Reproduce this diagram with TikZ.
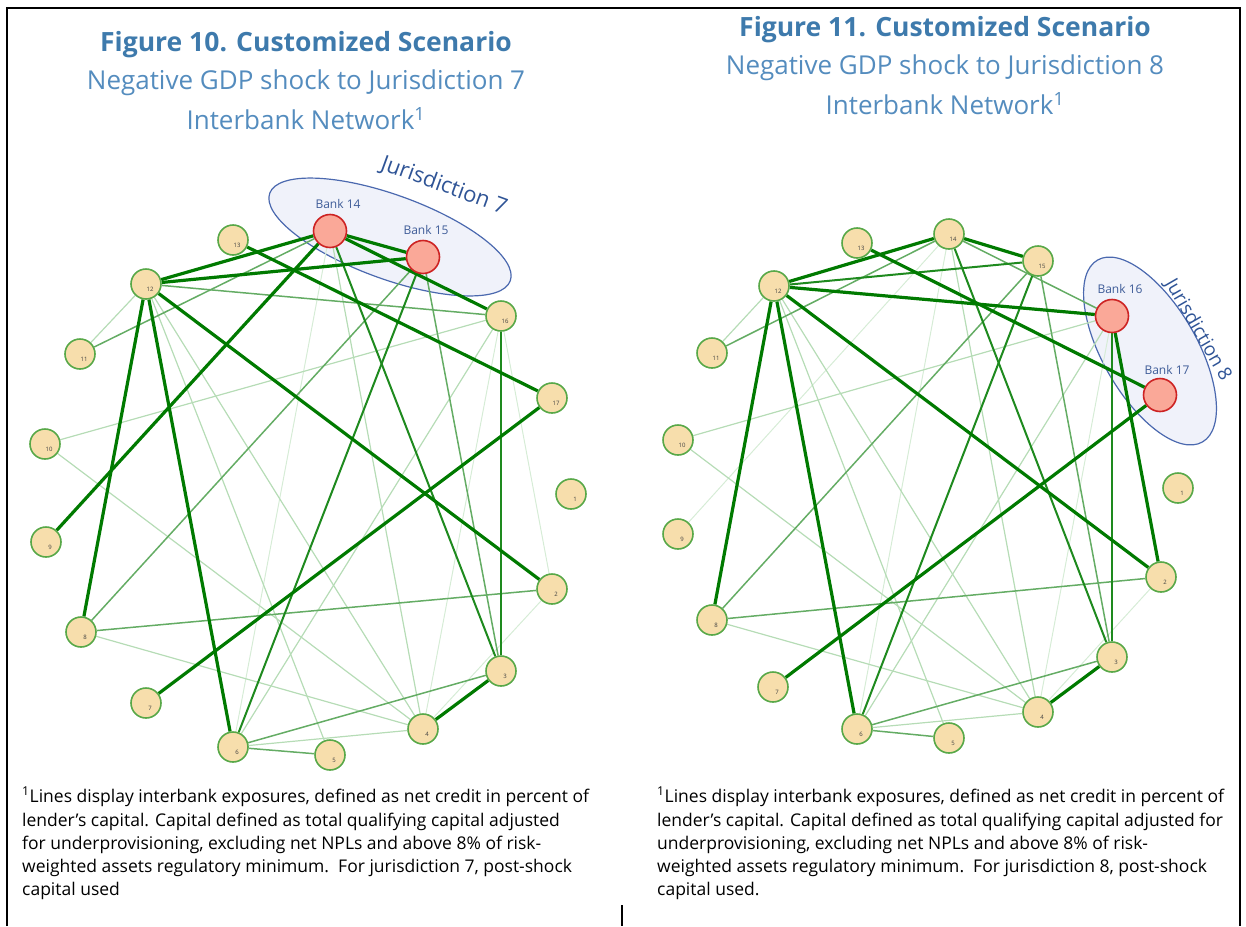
\documentclass[tikz,border=0pt]{standalone}
\usepackage{fontspec}
\setmainfont{Open Sans}
\usetikzlibrary{shapes.geometric,backgrounds}
\definecolor{titleblue}{RGB}{62,122,172}
\definecolor{subblue}{RGB}{84,140,190}
\definecolor{jurblue}{RGB}{47,84,150}
\definecolor{bankblue}{RGB}{62,92,152}
\definecolor{ellfill}{RGB}{240,242,250}
\definecolor{elledge}{RGB}{75,105,175}
\definecolor{nodefill}{RGB}{247,222,172}
\definecolor{nodeedge}{RGB}{88,168,72}
\definecolor{redfill}{RGB}{250,168,152}
\definecolor{rededge}{RGB}{205,35,35}
\definecolor{gthick}{RGB}{0,122,0}
\definecolor{gmed}{RGB}{30,138,30}
\definecolor{gml}{RGB}{100,172,100}
\definecolor{gl}{RGB}{182,220,182}
\definecolor{gvl}{RGB}{214,236,214}
\tikzset{
  bank/.style={circle, fill=nodefill, draw=nodeedge, line width=1.6pt, minimum size=30pt, inner sep=0pt},
  rbank/.style={circle, fill=redfill, draw=rededge, line width=1.6pt, minimum size=33pt, inner sep=0pt},
  num/.style={font=\fontsize{6}{6}\selectfont, text=black!75, xshift=4pt, yshift=-5pt, inner sep=0pt},
  ethick/.style={draw=gthick, line width=3.2pt},
  emed/.style={draw=gmed, line width=2pt},
  eml/.style={draw=gml, line width=1.5pt},
  el/.style={draw=gl, line width=1.2pt},
  evl/.style={draw=gvl, line width=1pt},
  jell/.style={ellipse, fill=ellfill, draw=elledge, line width=1.2pt, inner sep=0pt},
  jur/.style={text=jurblue, font=\fontsize{22}{22}\selectfont, inner sep=0pt},
  blbl/.style={text=bankblue, font=\fontsize{12}{12}\selectfont, inner sep=0pt},
  ttl/.style={text=titleblue, font=\bfseries\fontsize{26.5}{26.5}\selectfont, inner sep=0pt},
  sub/.style={text=subblue, font=\fontsize{26}{26}\selectfont, inner sep=0pt},
  foot/.style={text=black, font=\fontsize{17.5}{20}\selectfont, inner sep=0pt, anchor=base west},
  frame/.style={draw=black, line width=2pt}
}
\newcommand\bk[4]{\node[bank, label={[num]center:#4}] (#1) at (#2,#3) {};}
\begin{document}
\begin{tikzpicture}[x=1pt,y=-1pt]
\useasboundingbox (0,0) rectangle (1246,926);
\draw[frame] (7,926) -- (7,8) -- (1240,8) -- (1240,926);
\draw[frame] (622,905) -- (622,926);

% titles
\node[ttl] (t10) at (306,45) {Figure 10. Customized Scenario};
\node[sub] (s10) at (306,83) {Negative GDP shock to Jurisdiction 7};
\node[sub] (i10) at (306,119) {Interbank Network\textsuperscript{1}};
\node[ttl] (t11) at (945,30) {Figure 11. Customized Scenario};
\node[sub] (s11) at (945,68) {Negative GDP shock to Jurisdiction 8};
\node[sub] (i11) at (945,104) {Interbank Network\textsuperscript{1}};

% ---------- left network nodes ----------
\bk{L13}{233}{240}{13}
\node[rbank] (L14) at (330,231) {};
\node[rbank] (L15) at (423,257) {};
\bk{L12}{146}{284}{12}
\bk{L16}{501}{316}{16}
\bk{L11}{80}{354}{11}
\bk{L17}{552}{398}{17}
\bk{L10}{45}{444}{10}
\bk{L1}{571}{494}{1}
\bk{L9}{46}{542}{9}
\bk{L2}{552}{589}{2}
\bk{L8}{81}{632}{8}
\bk{L3}{501}{671}{3}
\bk{L7}{146}{703}{7}
\bk{L4}{423}{729}{4}
\bk{L6}{233}{747}{6}
\bk{L5}{330}{755}{5}
\node[blbl] (bl14) at (338,204) {Bank 14};
\node[blbl] (bl15) at (426,230) {Bank 15};
\node[jur, rotate=-20] (J7) at (444,186) {Jurisdiction 7};

% ---------- right network nodes ----------
\bk{R13}{857}{243}{13}
\bk{R14}{949}{234}{14}
\bk{R15}{1038}{261}{15}
\bk{R12}{774}{286}{12}
\node[rbank] (R16) at (1112,316) {};
\bk{R11}{712}{353}{11}
\node[rbank] (R17) at (1160,395) {};
\bk{R10}{678}{440}{10}
\bk{R1}{1178}{488}{1}
\bk{R9}{678}{534}{9}
\bk{R2}{1161}{577}{2}
\bk{R8}{712}{620}{8}
\bk{R3}{1112}{657}{3}
\bk{R7}{773}{687}{7}
\bk{R4}{1038}{712}{4}
\bk{R6}{857}{729}{6}
\bk{R5}{949}{738}{5}
\node[blbl] (bl16) at (1120,289) {Bank 16};
\node[blbl] (bl17) at (1167,370) {Bank 17};
\node[jur, rotate=-60, font=\fontsize{19}{19}\selectfont] (J8) at (1198,330) {Jurisdiction 8};

\begin{pgfonlayer}{background}
\node[jell, minimum width=256pt, minimum height=84pt, rotate=-20] (E7) at (390,237) {};
\node[jell, minimum width=210pt, minimum height=94pt, rotate=-60] (E8) at (1150,351) {};
% left edges
\draw[evl] (L14) -- (L6);
\draw[evl] (L16) -- (L4);
\draw[evl] (L16) -- (L2);
\draw[evl] (L2) -- (L4);
\draw[el] (L12) -- (L11);
\draw[el] (L10) -- (L16);
\draw[el] (L8) -- (L4);
\draw[el] (L10) -- (L4);
\draw[el] (L6) -- (L4);
\draw[el] (L12) -- (L4);
\draw[el] (L12) -- (L5);
\draw[el] (L14) -- (L4);
\draw[el] (L16) -- (L6);
\draw[eml] (L15) -- (L8);
\draw[eml] (L12) -- (L16);
\draw[eml] (L8) -- (L2);
\draw[eml] (L6) -- (L3);
\draw[eml] (L6) -- (L5);
\draw[eml] (L11) -- (L14);
\draw[eml] (L15) -- (L3);
\draw[emed] (L15) -- (L6);
\draw[emed] (L16) -- (L3);
\draw[emed] (L14) -- (L3);
\draw[ethick] (L12) -- (L14);
\draw[ethick] (L12) -- (L15);
\draw[ethick] (L14) -- (L15);
\draw[ethick] (L14) -- (L16);
\draw[ethick] (L14) -- (L9);
\draw[ethick] (L13) -- (L17);
\draw[ethick] (L12) -- (L8);
\draw[ethick] (L12) -- (L6);
\draw[ethick] (L12) -- (L2);
\draw[ethick] (L17) -- (L7);
\draw[ethick] (L3) -- (L4);
% right edges
\draw[evl] (R14) -- (R6);
\draw[evl] (R16) -- (R4);
\draw[evl] (R2) -- (R4);
\draw[evl] (R14) -- (R9);
\draw[el] (R12) -- (R11);
\draw[el] (R10) -- (R16);
\draw[el] (R8) -- (R4);
\draw[el] (R10) -- (R4);
\draw[el] (R6) -- (R4);
\draw[el] (R12) -- (R4);
\draw[el] (R12) -- (R5);
\draw[el] (R14) -- (R4);
\draw[el] (R16) -- (R6);
\draw[eml] (R15) -- (R8);
\draw[eml] (R8) -- (R2);
\draw[eml] (R6) -- (R3);
\draw[eml] (R6) -- (R5);
\draw[eml] (R11) -- (R14);
\draw[eml] (R15) -- (R3);
\draw[eml] (R14) -- (R16);
\draw[emed] (R15) -- (R6);
\draw[emed] (R16) -- (R3);
\draw[emed] (R14) -- (R3);
\draw[emed] (R12) -- (R15);
\draw[ethick] (R12) -- (R14);
\draw[ethick] (R14) -- (R15);
\draw[ethick] (R12) -- (R16);
\draw[ethick] (R13) -- (R17);
\draw[ethick] (R12) -- (R8);
\draw[ethick] (R12) -- (R6);
\draw[ethick] (R12) -- (R2);
\draw[ethick] (R16) -- (R2);
\draw[ethick] (R17) -- (R7);
\draw[ethick] (R3) -- (R4);
\end{pgfonlayer}

% footnotes
\node[foot] (lf1) at (22,802) {\textsuperscript{1}Lines display interbank exposures, defined as net credit in percent of};
\node[foot] (lf2) at (22,826) {lender’s capital. Capital defined as total qualifying capital adjusted};
\node[foot] (lf3) at (22,849) {for underprovisioning, excluding net NPLs and above 8\% of risk-};
\node[foot] (lf4) at (22,872) {weighted assets regulatory minimum.\ \ For jurisdiction 7, post-shock};
\node[foot] (lf5) at (22,895) {capital used};
\node[foot] (rf1) at (657,802) {\textsuperscript{1}Lines display interbank exposures, defined as net credit in percent of};
\node[foot] (rf2) at (657,826) {lender’s capital. Capital defined as total qualifying capital adjusted for};
\node[foot] (rf3) at (657,849) {underprovisioning, excluding net NPLs and above 8\% of risk-};
\node[foot] (rf4) at (657,872) {weighted assets regulatory minimum.\ \ For jurisdiction 8, post-shock};
\node[foot] (rf5) at (657,895) {capital used.};
\end{tikzpicture}
\end{document}
